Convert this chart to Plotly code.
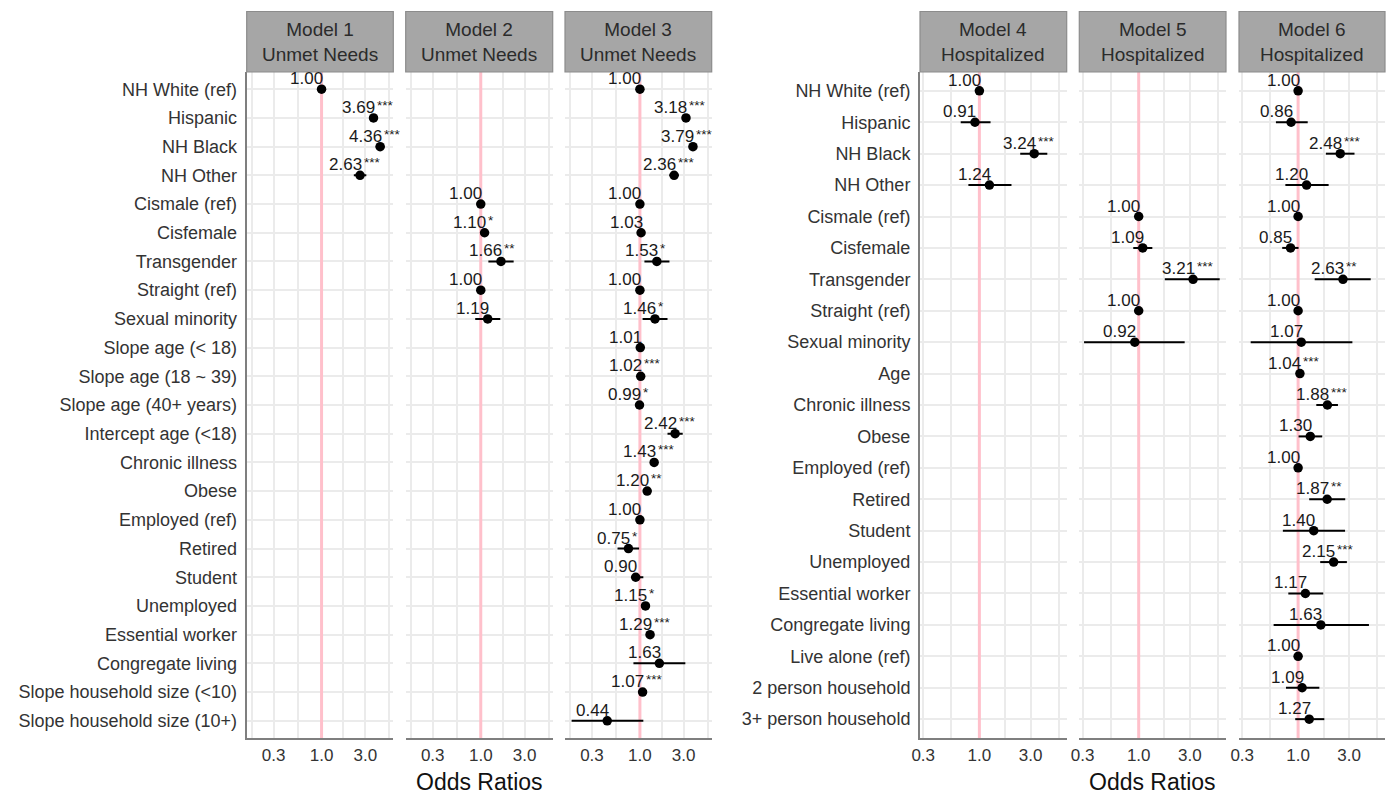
import math
import plotly.graph_objects as go

# ---------------- data ----------------
left_labels = ["NH White (ref)", "Hispanic", "NH Black", "NH Other", "Cismale (ref)", "Cisfemale",
               "Transgender", "Straight (ref)", "Sexual minority", "Slope age (< 18)",
               "Slope age (18 ~ 39)", "Slope age (40+ years)", "Intercept age (<18)",
               "Chronic illness", "Obese", "Employed (ref)", "Retired", "Student", "Unemployed",
               "Essential worker", "Congregate living", "Slope household size (<10)",
               "Slope household size (10+)"]
right_labels = ["NH White (ref)", "Hispanic", "NH Black", "NH Other", "Cismale (ref)", "Cisfemale",
                "Transgender", "Straight (ref)", "Sexual minority", "Age", "Chronic illness",
                "Obese", "Employed (ref)", "Retired", "Student", "Unemployed", "Essential worker",
                "Congregate living", "Live alone (ref)", "2 person household", "3+ person household"]

model_titles = ["Model 1<br>Unmet Needs", "Model 2<br>Unmet Needs", "Model 3<br>Unmet Needs",
                "Model 4<br>Hospitalized", "Model 5<br>Hospitalized", "Model 6<br>Hospitalized"]

m1_rows = [0, 1, 2, 3]
m1_or = [1.00, 3.69, 4.36, 2.63]
m1_lo = [1.00, 3.32, 3.90, 2.25]
m1_hi = [1.00, 4.10, 4.87, 3.08]
m1_stars = ["", "***", "***", "***"]

m2_rows = [4, 5, 6, 7, 8]
m2_or = [1.00, 1.10, 1.66, 1.00, 1.19]
m2_lo = [1.00, 1.01, 1.21, 1.00, 0.87]
m2_hi = [1.00, 1.20, 2.28, 1.00, 1.63]
m2_stars = ["", "*", "**", "", ""]

m3_rows = list(range(23))
m3_or = [1.00, 3.18, 3.79, 2.36, 1.00, 1.03, 1.53, 1.00, 1.46, 1.01, 1.02, 0.99, 2.42, 1.43,
         1.20, 1.00, 0.75, 0.90, 1.15, 1.29, 1.63, 1.07, 0.44]
m3_lo = [1.00, 2.90, 3.42, 2.10, 1.00, 0.95, 1.12, 1.00, 1.07, 0.99, 1.01, 0.98, 2.00, 1.30,
         1.08, 1.00, 0.57, 0.80, 1.03, 1.16, 0.85, 1.05, 0.18]
m3_hi = [1.00, 3.49, 4.20, 2.65, 1.00, 1.12, 2.10, 1.00, 2.00, 1.03, 1.03, 1.00, 2.93, 1.57,
         1.33, 1.00, 0.98, 1.09, 1.28, 1.43, 3.13, 1.09, 1.09]
m3_stars = ["", "***", "***", "***", "", "", "*", "", "*", "", "***", "*", "***", "***", "**",
            "", "*", "", "*", "***", "", "***", ""]

m4_rows = [0, 1, 2, 3]
m4_or = [1.00, 0.91, 3.24, 1.24]
m4_lo = [1.00, 0.67, 2.40, 0.79]
m4_hi = [1.00, 1.27, 4.29, 1.99]
m4_stars = ["", "", "***", ""]

m5_rows = [4, 5, 6, 7, 8]
m5_or = [1.00, 1.09, 3.21, 1.00, 0.92]
m5_lo = [1.00, 0.89, 1.75, 1.00, 0.31]
m5_hi = [1.00, 1.34, 5.68, 1.00, 2.68]
m5_stars = ["", "", "***", "", ""]

m6_rows = list(range(21))
m6_or = [1.00, 0.86, 2.48, 1.20, 1.00, 0.85, 2.63, 1.00, 1.07, 1.04, 1.88, 1.30, 1.00, 1.87,
         1.40, 2.15, 1.17, 1.63, 1.00, 1.09, 1.27]
m6_lo = [1.00, 0.62, 1.82, 0.76, 1.00, 0.71, 1.43, 1.00, 0.36, 1.02, 1.48, 1.01, 1.00, 1.27,
         0.72, 1.61, 0.81, 0.59, 1.00, 0.77, 0.94]
m6_hi = [1.00, 1.23, 3.37, 1.93, 1.00, 1.01, 4.78, 1.00, 3.22, 1.06, 2.36, 1.68, 1.00, 2.76,
         2.75, 2.86, 1.72, 4.60, 1.00, 1.58, 1.76]
m6_stars = ["", "", "***", "", "", "", "**", "", "", "***", "***", "", "", "**", "", "***", "",
            "", "", "", ""]

x_tickvals = [0.3, 1.0, 3.0]
x_ticktext = ["0.3", "1.0", "3.0"]
x_minor = [0.1732, 0.5477, 1.732, 5.477]

# ---------------- layout geometry ----------------
W, H = 1393, 795
panels_px = [(246.7, 393.3), (405.7, 552.7), (565.0, 711.7),
             (920.0, 1066.7), (1079.3, 1226.0), (1239.0, 1385.0)]
panel_top, panel_bot = 72.0, 738.0
strip_top = 11.5
left_xrange = [-0.817, 0.783]
right_xrange = [-0.553, 0.813]

models = [
    (m1_rows, m1_or, m1_lo, m1_hi, m1_stars),
    (m2_rows, m2_or, m2_lo, m2_hi, m2_stars),
    (m3_rows, m3_or, m3_lo, m3_hi, m3_stars),
    (m4_rows, m4_or, m4_lo, m4_hi, m4_stars),
    (m5_rows, m5_or, m5_lo, m5_hi, m5_stars),
    (m6_rows, m6_or, m6_lo, m6_hi, m6_stars),
]

FONT = "Arial, Liberation Sans, sans-serif"
fig = go.Figure()
GRID = "#EBEBEB"
AXIS_LINE = "#7F7F7F"
TXT = "#333333"
ann = []
shapes = []

ydom = [1 - panel_bot / H, 1 - panel_top / H]

for i, (rows, ors, los, his, stars) in enumerate(models):
    k = i + 1
    xa = "x" if k == 1 else f"x{k}"
    ya = "y" if k == 1 else f"y{k}"
    left_group = i < 3
    labels = left_labels if left_group else right_labels
    n = len(labels)
    xr = left_xrange if left_group else right_xrange
    first = i in (0, 3)

    # reference line at OR = 1
    fig.add_trace(go.Scatter(x=[1, 1], y=[-0.6, n - 0.4], mode="lines",
                             line=dict(color="#FFC0CB", width=3), xaxis=xa, yaxis=ya,
                             hoverinfo="skip", showlegend=False))
    # points with CIs
    fig.add_trace(go.Scatter(
        x=ors, y=rows, mode="markers",
        marker=dict(color="black", size=9.5),
        error_x=dict(type="data", symmetric=False,
                     array=[h - o for h, o in zip(his, ors)],
                     arrayminus=[o - l for o, l in zip(ors, los)],
                     color="black", thickness=2, width=0),
        xaxis=xa, yaxis=ya, showlegend=False,
        hovertemplate="%{x:.2f}<extra></extra>"))

    x0, x1 = panels_px[i]
    axis_key = "xaxis" if k == 1 else f"xaxis{k}"
    yaxis_key = "yaxis" if k == 1 else f"yaxis{k}"
    fig.update_layout(**{
        axis_key: dict(domain=[x0 / W, x1 / W], anchor=ya, type="log", range=xr,
                       automargin=False,
                       tickvals=x_tickvals, ticktext=x_ticktext, showgrid=True,
                       gridcolor=GRID, gridwidth=1.6, zeroline=False,
                       showline=True, linecolor=AXIS_LINE, linewidth=2, ticks="",
                       ticklabelstandoff=1,
                       tickfont=dict(family=FONT, size=17, color=TXT),
                       minor=dict(tickvals=x_minor, showgrid=True, gridcolor=GRID,
                                  gridwidth=1.6, ticks=""),
                       fixedrange=True),
        yaxis_key: dict(domain=ydom, anchor=xa, range=[n - 1 + 0.6, -0.6],
                        automargin=False,
                        tickvals=list(range(n)), ticktext=labels,
                        showticklabels=first, showgrid=True, gridcolor=GRID, gridwidth=1.6,
                        zeroline=False, showline=first, linecolor=AXIS_LINE, linewidth=2,
                        ticks="", ticklabelstandoff=4,
                        tickfont=dict(family=FONT, size=18, color=TXT),
                        fixedrange=True),
    })

    # value labels
    for r, o, s in zip(rows, ors, stars):
        ann.append(dict(x=math.log10(o), y=r, xref=xa, yref=ya, text=f"{o:.2f}",
                        xanchor="right", yanchor="bottom", xshift=3.5, yshift=-1,
                        showarrow=False,
                        font=dict(family=FONT, size=17, color="#1a1a1a")))
        if s:
            ann.append(dict(x=math.log10(o), y=r, xref=xa, yref=ya, text=s,
                            xanchor="left", yanchor="bottom", xshift=1.5, yshift=3,
                            showarrow=False,
                            font=dict(family=FONT, size=13.5, color="#1a1a1a")))

    # strip
    shapes.append(dict(type="rect", xref="paper", yref="paper", x0=x0 / W, x1=x1 / W,
                       y0=1 - panel_top / H, y1=1 - strip_top / H,
                       fillcolor="#A6A6A6", line=dict(color="#8C8C8C", width=1.2),
                       layer="above"))
    ann.append(dict(x=(x0 + x1) / 2 / W, y=1 - (panel_top + strip_top) / 2 / H,
                    xref="paper", yref="paper", text=model_titles[i], showarrow=False,
                    xanchor="center", yanchor="middle",
                    font=dict(family=FONT, size=19, color="#2b2b2b")))

# axis titles
for cx in [(panels_px[1][0] + panels_px[1][1]) / 2, (panels_px[4][0] + panels_px[4][1]) / 2]:
    ann.append(dict(x=cx / W, y=1 - 782 / H, xref="paper", yref="paper", text="Odds Ratios",
                    showarrow=False, xanchor="center", yanchor="middle",
                    font=dict(family=FONT, size=23, color="#111111")))

fig.update_layout(width=W, height=H, margin=dict(l=0, r=0, t=0, b=0, autoexpand=False),
                  template="none",
                  paper_bgcolor="white", plot_bgcolor="white",
                  annotations=ann, shapes=shapes, showlegend=False)

fig.write_html("out.html", config={"displayModeBar": False},
               post_script="document.body.style.margin='0px';document.body.style.overflow='hidden';")
